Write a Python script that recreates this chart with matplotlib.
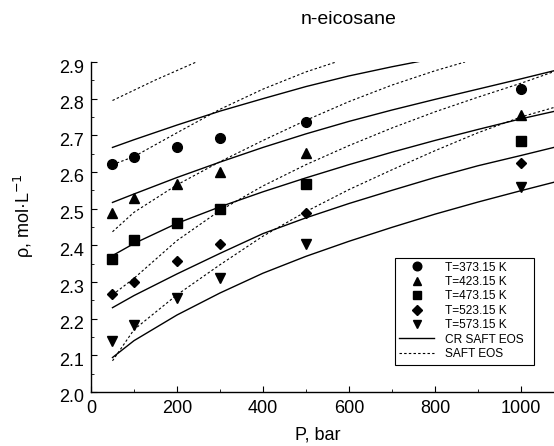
import matplotlib
matplotlib.use("Agg")
import matplotlib.pyplot as plt
import matplotlib.transforms as mtransforms
from matplotlib.lines import Line2D
from matplotlib.patches import Rectangle

# ---------------- data ----------------
P_exp = [50, 100, 200, 300, 500, 1000]
rho_373 = [2.623, 2.640, 2.668, 2.693, 2.737, 2.826]
rho_423 = [2.487, 2.529, 2.567, 2.599, 2.653, 2.755]
rho_473 = [2.362, 2.415, 2.462, 2.500, 2.566, 2.685]
rho_523 = [2.266, 2.300, 2.358, 2.404, 2.487, 2.625]
rho_573 = [2.140, 2.184, 2.257, 2.312, 2.405, 2.559]

labels = ["T=373.15 K", "T=423.15 K", "T=473.15 K", "T=523.15 K", "T=573.15 K"]

# CR SAFT EOS (solid)
P_cr = [50, 100, 200, 300, 400, 500, 600, 700, 800, 900, 1000, 1080]
cr_373_P = [50, 100, 200, 300, 400, 500, 600, 700, 770]
cr_373 = [2.667, 2.688, 2.728, 2.766, 2.800, 2.833, 2.862, 2.887, 2.903]
cr_423 = [2.517, 2.540, 2.585, 2.627, 2.667, 2.704, 2.738, 2.769, 2.798, 2.826, 2.854, 2.877]
cr_473 = [2.372, 2.405, 2.460, 2.505, 2.546, 2.584, 2.620, 2.654, 2.686, 2.716, 2.745, 2.766]
cr_523 = [2.230, 2.263, 2.322, 2.378, 2.432, 2.475, 2.514, 2.550, 2.585, 2.617, 2.645, 2.668]
cr_573 = [2.094, 2.140, 2.210, 2.270, 2.324, 2.370, 2.411, 2.449, 2.485, 2.518, 2.549, 2.573]

# SAFT EOS (dashed)
s_373_P = [50, 150, 245]
s_373 = [2.795, 2.851, 2.900]
s_423_P = [50, 100, 200, 300, 400, 500, 570]
s_423 = [2.620, 2.642, 2.707, 2.771, 2.826, 2.873, 2.900]
s_473_P = [50, 100, 200, 300, 400, 500, 600, 700, 800, 870]
s_473 = [2.437, 2.490, 2.565, 2.628, 2.686, 2.741, 2.792, 2.837, 2.876, 2.900]
s_P = [50, 100, 200, 300, 400, 500, 600, 700, 800, 900, 1000, 1080]
s_523 = [2.265, 2.310, 2.413, 2.495, 2.562, 2.620, 2.672, 2.720, 2.764, 2.804, 2.842, 2.875]
s_573 = [2.085, 2.170, 2.265, 2.347, 2.425, 2.492, 2.552, 2.606, 2.658, 2.707, 2.750, 2.777]

# ---------------- figure ----------------
plt.rcParams['font.family'] = ['Liberation Sans', 'DejaVu Sans']
fig = plt.figure(figsize=(5.54, 4.46), dpi=100)
ax = fig.add_axes([91/554, 54/446, (554-91)/554, 330/446])

solid_kw = dict(color='black', lw=1.0, linestyle='-')
dash_kw = dict(color='black', lw=0.8, linestyle=(0, (2.2, 2)))

ax.plot(cr_373_P, cr_373, **solid_kw)
for ys in [cr_423, cr_473, cr_523, cr_573]:
    ax.plot(P_cr, ys, **solid_kw)

ax.plot(s_373_P, s_373, **dash_kw)
ax.plot(s_423_P, s_423, **dash_kw)
ax.plot(s_473_P, s_473, **dash_kw)
ax.plot(s_P, s_523, **dash_kw)
ax.plot(s_P, s_573, **dash_kw)

markers = ['o', '^', 's', 'D', 'v']
sizes = [7.0, 7.2, 6.6, 5.4, 7.2]
series = [rho_373, rho_423, rho_473, rho_523, rho_573]
handles = []
for ys, m, ms, lab in zip(series, markers, sizes, labels):
    ax.plot(P_exp, ys, linestyle='none', marker=m, ms=ms, color='black', clip_on=False, zorder=3)
    handles.append(Line2D([], [], linestyle='none', marker=m, ms=ms - 0.8, color='black', label=lab))
handles.append(Line2D([], [], label='CR SAFT EOS', **solid_kw))
handles.append(Line2D([], [], label='SAFT EOS', **dash_kw))

ax.set_xlim(0, 1077)
ax.set_ylim(2.0, 2.9)
ax.set_xticks([0, 200, 400, 600, 800, 1000])
ax.set_xticks([100, 300, 500, 700, 900], minor=True)
ax.set_yticks([2.0, 2.1, 2.2, 2.3, 2.4, 2.5, 2.6, 2.7, 2.8, 2.9])
ax.set_yticks([2.05, 2.15, 2.25, 2.35, 2.45, 2.55, 2.65, 2.75, 2.85], minor=True)
ax.set_yticklabels(['2.0', '2.1', '2.2', '2.3', '2.4', '2.5', '2.6', '2.7', '2.8', '2.9'])
ax.tick_params(axis='both', which='major', direction='in', length=4, width=0.8, labelsize=13)
ax.tick_params(axis='both', which='minor', direction='in', length=2.5, width=0.6)
ax.tick_params(axis='x', which='major', pad=6)
ax.tick_params(axis='y', which='major', pad=5)

# y tick labels sit slightly below their ticks in the reference
offset = mtransforms.ScaledTranslation(0, -4/100, fig.dpi_scale_trans)
for lab in ax.get_yticklabels():
    lab.set_transform(lab.get_transform() + offset)

for s in ['top', 'right']:
    ax.spines[s].set_visible(False)
for s in ['left', 'bottom']:
    ax.spines[s].set_linewidth(1.0)

ax.set_xlabel('P, bar', fontsize=13)
ax.xaxis.set_label_coords((318-91)/463, -(426-392)/330)
ax.set_ylabel(r'ρ, mol·L$^{-1}$', fontsize=13)
ax.yaxis.set_label_coords((36-91)/463, (392-216)/330)
fig.text(349/554, 1 - 20/446, 'n-eicosane', ha='center', va='center', fontsize=14)

leg = ax.legend(handles=handles, loc='upper left', bbox_to_anchor=((395-91)/463, (392-258)/330),
                fontsize=8.6, frameon=False,
                handlelength=3.0, handletextpad=0.9, labelspacing=0.2, borderpad=0.3,
                borderaxespad=0)

# legend frame matching the reference box
fig.add_artist(Rectangle((395/554, 1 - 365/446), 139/554, 107/446,
                         transform=fig.transFigure, fill=False, edgecolor='black', lw=0.8))

fig.savefig('out.png', dpi=100)
